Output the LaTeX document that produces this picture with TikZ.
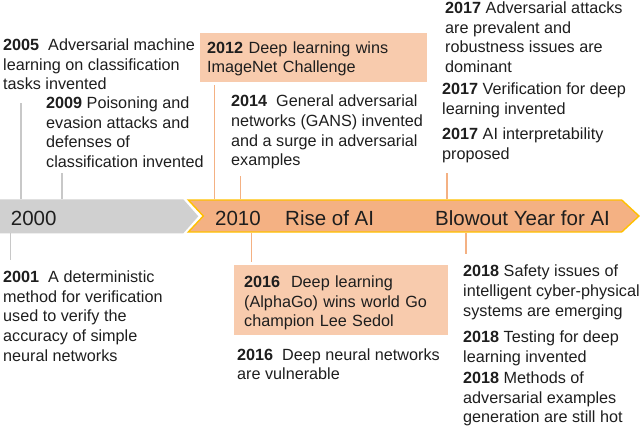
\documentclass[tikz,border=0pt]{standalone}
\usepackage{fontspec}
\setmainfont{Liberation Sans}
\definecolor{txtc}{HTML}{1E1E1E}
\definecolor{greyband}{HTML}{D0D0D0}
\definecolor{greyline}{HTML}{C8C8C8}
\definecolor{orangeband}{HTML}{F4B183}
\definecolor{orangeline}{HTML}{F4B183}
\definecolor{goldborder}{HTML}{FFC000}
\definecolor{boxfill}{HTML}{F8CBAD}
\begin{document}
\begin{tikzpicture}[x=1pt,y=-1pt,
  txt/.style={anchor=north west, inner sep=0pt, align=left, text=txtc,
    font=\fontsize{16.2}{19.6}\selectfont},
  hbox/.style={anchor=north west, fill=boxfill, draw=none, inner xsep=#1, align=left,
    text=txtc, font=\fontsize{16.2}{19.6}\selectfont},
  bandtxt/.style={anchor=base west, inner sep=0pt, text=txtc,
    font=\fontsize{20.5}{24}\selectfont},
  gline/.style={draw=greyline, line width=1.1pt},
  oline/.style={draw=orangeline, line width=1.2pt}]
\useasboundingbox (0,0) rectangle (640,428);

% bands
\fill[greyband] (0,199.3) -- (183.3,199.3) -- (198.3,216.3) -- (183.3,233.3) -- (0,233.3) -- cycle;
\draw[fill=orangeband, draw=goldborder, line width=1.4pt, line join=miter]
  (188.3,200) -- (621.7,200) -- (639,216) -- (621.7,232) -- (188.3,232) -- (203.3,216) -- cycle;

\node[bandtxt] (y2000) at (10.7,225) {2000};
\node[bandtxt] (y2010) at (215,225) {2010};
\node[bandtxt] (rise) at (285,225) {Rise of AI};
\node[bandtxt] (blow) at (435,225) {Blowout Year for AI};

% upper texts
\node[txt] (t2005) at (3,38.5) {\textbf{2005}\ \ Adversarial machine\\learning on classification\\tasks invented};
\node[txt] (t2009) at (46,96.7) {\textbf{2009} Poisoning and\\evasion attacks and\\defenses of\\classification invented};
\node[hbox=7pt, text width=213pt, minimum width=227pt, minimum height=49pt] (t2012) at (200,33)
  {\rule{0pt}{14pt}\textbf{2012} Deep learning wins\\ImageNet Challenge};
\node[txt] (t2014) at (231,95) {\textbf{2014}\ \ General adversarial\\networks (GANS) invented\\and a surge in adversarial\\examples};
\node[txt] (t2017a) at (445,1.8) {\textbf{2017} Adversarial attacks\\are prevalent and\\robustness issues are\\dominant};
\node[txt] (t2017b) at (442,83) {\textbf{2017} Verification for deep\\learning invented};
\node[txt] (t2017c) at (442,128) {\textbf{2017} AI interpretability\\proposed};

% lower texts
\node[txt] (t2001) at (3,270.7) {\textbf{2001}\ \ A deterministic\\method for verification\\used to verify the\\accuracy of simple\\neural networks};
\node[hbox=10pt, text width=194pt, minimum width=214pt, minimum height=70pt] (t2016a) at (234,265)
  {\rule{0pt}{17pt}\textbf{2016}\ \ Deep learning\\(AlphaGo) wins world Go\\champion Lee Sedol};
\node[txt] (t2016b) at (237,348.3) {\textbf{2016}\ \ Deep neural networks\\are vulnerable};
\node[txt] (t2018a) at (463,265) {\textbf{2018} Safety issues of\\intelligent cyber-physical\\systems are emerging};
\node[txt] (t2018b) at (463,331) {\textbf{2018} Testing for deep\\learning invented};
\node[txt] (t2018c) at (463,371.7) {\textbf{2018} Methods of\\adversarial examples\\generation are still hot};

% connector end points
\coordinate (g1a) at (21,103);   \coordinate (g1b) at (21,199.3);
\coordinate (g2a) at (62,173);   \coordinate (g2b) at (62,199.3);
\coordinate (g3a) at (10.7,233.3); \coordinate (g3b) at (10.7,260);
\coordinate (o1a) at (214.3,85); \coordinate (o1b) at (214.3,199.3);
\coordinate (o2a) at (240.7,176); \coordinate (o2b) at (240.7,199.3);
\coordinate (o3a) at (447,173);  \coordinate (o3b) at (447,199.3);
\coordinate (o4a) at (251.7,232.7); \coordinate (o4b) at (251.7,262);
\coordinate (o5a) at (466,232.7); \coordinate (o5b) at (466,254);

\draw[gline] (g1a) -- (g1b);
\draw[gline] (g2a) -- (g2b);
\draw[gline] (g3a) -- (g3b);
\draw[oline] (o1a) -- (o1b);
\draw[oline] (o2a) -- (o2b);
\draw[oline] (o3a) -- (o3b);
\draw[oline] (o4a) -- (o4b);
\draw[oline] (o5a) -- (o5b);
\end{tikzpicture}
\end{document}
